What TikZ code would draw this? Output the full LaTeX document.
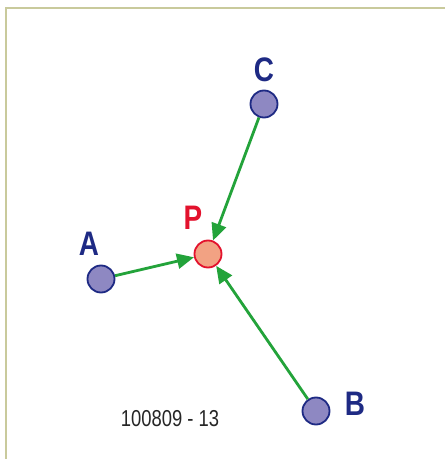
\documentclass[tikz,border=0pt]{standalone}
\usepackage{fontspec}
\setmainfont{Liberation Sans}
\usetikzlibrary{arrows.meta}
\definecolor{frameol}{HTML}{C9CA9C}
\definecolor{navy}{HTML}{1E2A84}
\definecolor{ptfill}{HTML}{8E88C2}
\definecolor{pfill}{HTML}{F2A283}
\definecolor{pred}{HTML}{E3122D}
\definecolor{arrgreen}{HTML}{23A33A}
\tikzset{
  pt/.style={circle, draw=navy, fill=ptfill, line width=1.8pt, minimum size=27pt, inner sep=0pt},
  ppt/.style={circle, draw=pred, fill=pfill, line width=1.8pt, minimum size=27pt, inner sep=0pt},
  lbl/.style={text=navy, font=\bfseries\fontsize{34}{34}\selectfont, inner sep=0pt},
  plbl/.style={text=pred, font=\bfseries\fontsize{34}{34}\selectfont, inner sep=0pt},
  conn/.style={draw=arrgreen, line width=2.8pt, -{Triangle[length=17pt,width=15pt]}},
}
\begin{document}
\begin{tikzpicture}[x=1pt,y=1pt]
\fill[white] (0,0) rectangle (445,459);
\useasboundingbox (0,0) rectangle (445,459);
\draw[frameol, line width=2pt] (5.5,0) -- (5.5,451) -- (445,451);
\node[pt] (C) at (264,355) {};
\node[pt] (A) at (101,180) {};
\node[ppt] (P) at (208,205) {};
\node[pt] (B) at (316,48) {};
\node[lbl, xscale=0.82] (Cl) at (264,389) {C};
\node[lbl, xscale=0.82] (Al) at (89,215) {A};
\node[plbl, xscale=0.82] (Pl) at (193,241) {P};
\node[lbl, xscale=0.82] (Bl) at (355,55) {B};
\node[font=\fontsize{23}{23}\selectfont, xscale=0.8, text=black!85] (cap) at (170,40) {100809 - 13};
\draw[conn] (A) -- (P);
\draw[conn] (C) -- (P);
\draw[conn] (B) -- (P);
\end{tikzpicture}
\end{document}
